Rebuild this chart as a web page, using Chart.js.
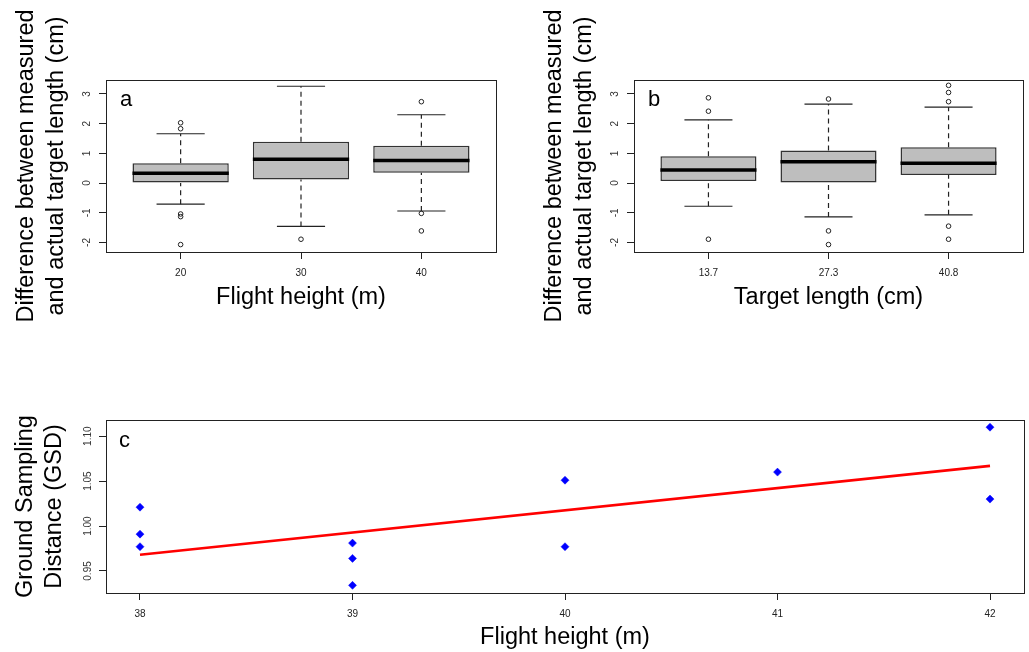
<!DOCTYPE html>
<html>
<head>
<meta charset="utf-8">
<style>
  body { margin: 0; background: white; overflow: hidden; }
  .wrap { position: relative; width: 1029px; height: 652px; }
  canvas { position: absolute; }
</style>
</head>
<body>
<div class="wrap">
  <canvas id="chartA" width="515" height="330" style="left:0;top:0"></canvas>
  <canvas id="chartB" width="501" height="330" style="left:528px;top:0"></canvas>
  <canvas id="chartC" width="1029" height="252" style="left:0;top:400px"></canvas>
</div>

<script src="https://cdn.jsdelivr.net/npm/chart.js"></script>
<script>
// panel a: difference by flight height
const flightLabels = ['20', '30', '40'];
const flightQ1  = [0.00, 0.12, 0.35];
const flightMed = [0.33, 0.80, 0.76];
const flightQ3  = [0.67, 1.39, 1.26];
const flightLo  = [-0.71, -1.46, -0.94];
const flightHi  = [1.66, 3.26, 2.30];
const flightOut = [[2.03, 1.83, -1.04, -1.13, -2.07], [-1.89], [2.74, -1.02, -1.61]];

// panel b: difference by target length
const targetLabels = ['13.7', '27.3', '40.8'];
const targetQ1  = [0.07, 0.00, 0.27];
const targetMed = [0.44, 0.72, 0.67];
const targetQ3  = [0.90, 1.10, 1.21];
const targetLo  = [-0.78, -1.14, -1.07];
const targetHi  = [2.13, 2.66, 2.56];
const targetOut = [[2.87, 2.42, -1.89], [2.83, -1.61, -2.07], [3.29, 3.05, 2.74, -1.45, -1.89]];

const diffTicks = [-2, -1, 0, 1, 2, 3];

// panel c: GSD vs flight height
const gsdHeight = [38, 38, 38, 39, 39, 39, 40, 40, 41, 42, 42];
const gsdValue  = [1.021, 0.991, 0.977, 0.981, 0.964, 0.934, 1.051, 0.977, 1.060, 1.110, 1.030];
const fitHeight = [38, 42];
const fitGsd    = [0.968, 1.067];
const heightTicks = [38, 39, 40, 41, 42];
const gsdTicks = [0.95, 1.00, 1.05, 1.10];

const FONT = "'Liberation Sans', Arial, sans-serif";
const INK = '#222';

// draws the full frame + panel letter
const framePlugin = {
  id: 'frame',
  afterDraw(chart, args, opts) {
    const {ctx, chartArea: a} = chart;
    ctx.save();
    ctx.strokeStyle = INK;
    ctx.lineWidth = 1;
    ctx.strokeRect(Math.round(a.left) + 0.5, Math.round(a.top) + 0.5,
                   Math.round(a.right - a.left), Math.round(a.bottom - a.top));
    ctx.fillStyle = '#000';
    ctx.font = '22px ' + FONT;
    ctx.textBaseline = 'middle';
    ctx.fillText(opts.letter, a.left + opts.dx, a.top + opts.dy);
    ctx.restore();
  }
};

function boxDatasets(q1, med, q3, lo, hi, outs) {
  const ds = [];
  ds.push({
    type: 'bar',
    data: q1.map((v, i) => ({x: i + 1, y: [v, q3[i]]})),
    backgroundColor: '#bebebe', borderColor: '#333', borderWidth: 1.5,
    borderSkipped: false, categoryPercentage: 0.8, barPercentage: 1, order: 5
  });
  const seg = (pts, extra) => ds.push(Object.assign({
    type: 'scatter', showLine: true, data: pts, borderColor: INK,
    borderWidth: 1.2, pointRadius: 0, order: 2
  }, extra));
  q1.forEach((v, i) => {
    const x = i + 1;
    seg([{x, y: q3[i]}, {x, y: hi[i]}], {borderDash: [5, 4]});
    seg([{x, y: lo[i]}, {x, y: v}], {borderDash: [5, 4]});
    seg([{x: x - 0.2, y: hi[i]}, {x: x + 0.2, y: hi[i]}]);
    seg([{x: x - 0.2, y: lo[i]}, {x: x + 0.2, y: lo[i]}]);
    seg([{x: x - 0.4, y: med[i]}, {x: x + 0.4, y: med[i]}], {borderWidth: 3.5, borderColor: '#000', order: 1});
  });
  ds.push({
    type: 'scatter',
    data: outs.flatMap((arr, i) => arr.map(y => ({x: i + 1, y}))),
    pointStyle: 'circle', pointRadius: 2.3, pointBorderWidth: 1,
    pointBorderColor: INK, pointBackgroundColor: 'rgba(0,0,0,0)', order: 0
  });
  return ds;
}

function axisTitle(text, pad) {
  return {display: true, text, color: '#000', padding: pad,
          font: {family: FONT, size: 23.5, lineHeight: 1.25}};
}
const tickFont = {family: FONT, size: 10};
const gridOpts = {drawOnChartArea: false, drawTicks: true, tickLength: 7, color: INK, offset: false};

function boxChart(id, labels, q1, med, q3, lo, hi, outs, xTitle, letter, padRight) {
  new Chart(document.getElementById(id), {
    type: 'bar',
    data: {datasets: boxDatasets(q1, med, q3, lo, hi, outs)},
    options: {
      responsive: false, animation: false,
      layout: {padding: {left: 0, top: 80, right: padRight, bottom: 0}},
      plugins: {legend: {display: false}, tooltip: {enabled: false},
                frame: {letter, dx: 14, dy: 20}},
      scales: {
        x: {
          type: 'linear', min: 0.38, max: 3.62, offset: false,
          afterBuildTicks: s => { s.ticks = labels.map((l, i) => ({value: i + 1})); },
          afterFit: s => { s.height = 78; },
          ticks: {font: tickFont, color: INK, padding: 8, maxRotation: 0,
                  callback: v => labels[Math.round(v) - 1]},
          grid: gridOpts, border: {color: INK},
          title: axisTitle(xTitle, {top: 0, bottom: 17.3})
        },
        y: {
          min: -2.32, max: 3.47,
          afterBuildTicks: s => { s.ticks = diffTicks.map(v => ({value: v})); },
          afterFit: s => { s.width = 106; },
          ticks: {font: tickFont, color: '#333', padding: 7.5, minRotation: 90, maxRotation: 90,
                  crossAlign: 'center', autoSkip: false},
          grid: gridOpts, border: {color: INK},
          title: axisTitle(['Difference between measured', 'and actual target length (cm)'], {top: 12.3, bottom: 0})
        }
      }
    },
    plugins: [framePlugin]
  });
}

boxChart('chartA', flightLabels, flightQ1, flightMed, flightQ3, flightLo, flightHi, flightOut,
         'Flight height (m)', 'a', 19);
boxChart('chartB', targetLabels, targetQ1, targetMed, targetQ3, targetLo, targetHi, targetOut,
         'Target length (cm)', 'b', 6);

new Chart(document.getElementById('chartC'), {
  type: 'scatter',
  data: {
    datasets: [
      {
        data: gsdHeight.map((h, i) => ({x: h, y: gsdValue[i]})),
        pointStyle: 'rectRot', pointRadius: 4, pointBackgroundColor: '#0000ff',
        pointBorderColor: '#0000ff', pointBorderWidth: 0.5, order: 0
      },
      {
        data: fitHeight.map((h, i) => ({x: h, y: fitGsd[i]})),
        showLine: true, borderColor: '#ff0000', borderWidth: 2.6, pointRadius: 0, order: 1
      }
    ]
  },
  options: {
    responsive: false, animation: false,
    layout: {padding: {left: 0, top: 20, right: 5, bottom: 0}},
    plugins: {legend: {display: false}, tooltip: {enabled: false},
              frame: {letter: 'c', dx: 13, dy: 21}},
    scales: {
      x: {
        min: 37.84, max: 42.16,
        afterBuildTicks: s => { s.ticks = heightTicks.map(v => ({value: v})); },
        afterFit: s => { s.height = 59; },
        ticks: {font: tickFont, color: INK, padding: 8, maxRotation: 0},
        grid: gridOpts, border: {color: INK},
        title: axisTitle('Flight height (m)', {top: 0, bottom: 0})
      },
      y: {
        min: 0.9255, max: 1.118,
        afterBuildTicks: s => { s.ticks = gsdTicks.map(v => ({value: v})); },
        afterFit: s => { s.width = 106; },
        ticks: {font: tickFont, color: '#333', padding: 1, minRotation: 90, maxRotation: 90,
                crossAlign: 'center', autoSkip: false, callback: v => v.toFixed(2)},
        grid: gridOpts, border: {color: INK},
        title: axisTitle(['Ground Sampling', 'Distance (GSD)'], {top: 10.6, bottom: 0})
      }
    }
  },
  plugins: [framePlugin]
});
</script>
</body>
</html>
